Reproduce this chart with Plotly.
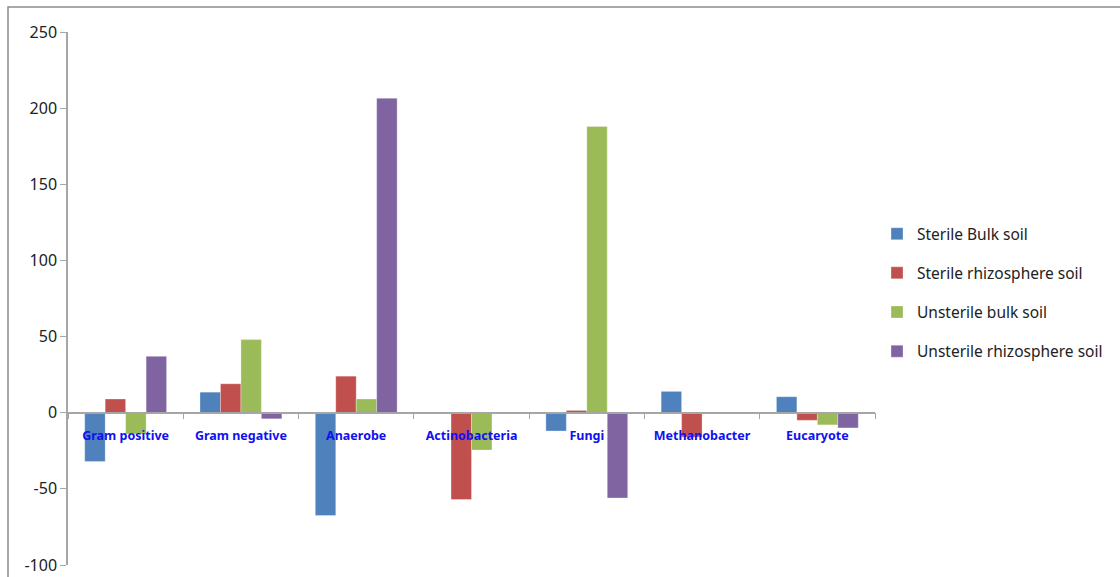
import plotly.graph_objects as go

# Microbial group responses by soil treatment
categories = ["Gram positive", "Gram negative", "Anaerobe", "Actinobacteria",
              "Fungi", "Methanobacter", "Eucaryote"]
sterile_bulk = [-32, 13.5, -67.5, 0, -12, 14, 10.5]
sterile_rhizo = [9, 19, 24, -57, 1.5, -16, -5]
unsterile_bulk = [-14, 48, 9, -24.5, 188, 0, -8]
unsterile_rhizo = [37, -4, 206.5, 0, -56, 0, -10]

y_ticks = [-100, -50, 0, 50, 100, 150, 200, 250]
y_tick_labels = ["-100", "-50", "0", "50", "100", "150", "200", "250"]

series = [
    ("Sterile Bulk soil", sterile_bulk, "#4F81BD"),
    ("Sterile rhizosphere soil", sterile_rhizo, "#C0504D"),
    ("Unsterile bulk soil", unsterile_bulk, "#9BBB59"),
    ("Unsterile rhizosphere soil", unsterile_rhizo, "#8064A2"),
]

fig = go.Figure()
for i, (name, vals, color) in enumerate(series):
    fig.add_trace(go.Bar(
        x=categories, y=vals, name=name,
        marker=dict(color=color, line=dict(color="rgba(255,255,255,0.6)", width=0.5)),
        legendgroup=f"g{i}",
    ))

y_min, y_max = -100, 250
zero_pos = (0 - y_min) / (y_max - y_min)

fig.update_layout(
    width=1120, height=577,
    paper_bgcolor="white", plot_bgcolor="white",
    margin=dict(l=68, r=245, t=32, b=12, autoexpand=False),
    barmode="group", bargap=0.29, bargroupgap=0,
    font=dict(family="Noto Sans, sans-serif", size=15, color="#222"),
    showlegend=True,
    legend=dict(
        x=1.0025, y=0.511, xanchor="left", yanchor="middle",
        font=dict(size=15.5, color="#222"), tracegroupgap=16,
        itemwidth=30,
    ),
    xaxis=dict(
        anchor="free", position=zero_pos, automargin=False,
        showline=True, linecolor="#A6A6A6", linewidth=1.5,
        ticks="outside", ticklen=6, tickcolor="#A6A6A6", tickson="boundaries",
        tickangle=0, ticklabelstandoff=12,
        tickfont=dict(family="Noto Sans, sans-serif",
                      size=12.5, color="#1010F0", weight="bold"),
        showgrid=False, zeroline=False, layer="above traces",
    ),
    yaxis=dict(
        range=[y_min, y_max], tickvals=y_ticks, ticktext=y_tick_labels,
        automargin=False,
        showline=True, linecolor="#A6A6A6", linewidth=1.5,
        ticks="outside", ticklen=6, tickcolor="#A6A6A6",
        showgrid=False, zeroline=False,
        tickfont=dict(size=16, color="#222"),
    ),
    shapes=[dict(
        type="rect", xref="paper", yref="paper",
        x0=(8 - 68) / 807, x1=1.5, y0=-0.2, y1=1 + (32 - 7) / 533,
        line=dict(color="#8C8C8C", width=1.5), fillcolor="rgba(0,0,0,0)",
        layer="below",
    )],
)

fig.write_html("out.html")
